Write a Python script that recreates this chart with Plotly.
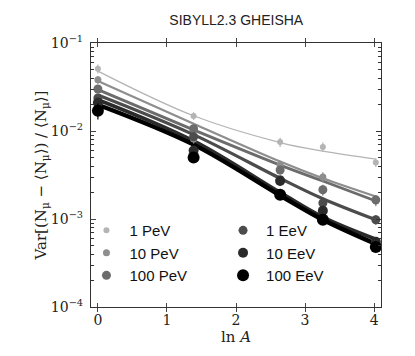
import plotly.graph_objects as go

# ln A das componentes (p, He, N, ~Al, Fe)
ln_a = [0.0, 1.386, 2.639, 3.258, 4.025]

energias = ["1 PeV", "10 PeV", "100 PeV", "1 EeV", "10 EeV", "100 EeV"]

# Pontos simulados
var_1pev = [0.051, 0.0148, 0.0075, 0.0066, 0.0044]
var_10pev = [0.0383, 0.0081, 0.0041, 0.0030, 0.0016]
var_100pev = [0.030, 0.0106, 0.0036, 0.00215, 0.00165]
var_1eev = [0.0237, 0.0086, 0.0028, 0.00152, 0.00098]
var_10eev = [0.0209, 0.0060, 0.0027, 0.00124, 0.00055]
var_100eev = [0.0170, 0.0050, 0.00189, 0.00098, 0.00048]

# Barras de erro
err_1pev = [0.006, 0.0015, 0.0009, 0.0008, 0.0005]
err_10pev = [0.004, 0.0009, 0.0005, 0.0004, 0.0002]
err_100pev = [0.003, 0.0010, 0.0004, 0.0003, 0.0002]
err_1eev = [0.0025, 0.0009, 0.0003, 0.0002, 0.00012]
err_10eev = [0.0025, 0.0007, 0.0003, 0.00015, 0.00007]
err_100eev = [0.0035, 0.0006, 0.00022, 0.00012, 0.00006]

# Curvas ajustadas
fit_1pev = [0.048, 0.0149, 0.0074, 0.0059, 0.0048]
fit_10pev = [0.037, 0.0121, 0.0045, 0.0029, 0.0018]
fit_100pev = [0.0295, 0.0103, 0.0041, 0.0027, 0.0016]
fit_1eev = [0.0257, 0.0091, 0.0029, 0.0017, 0.00098]
fit_10eev = [0.0227, 0.0077, 0.0020, 0.00105, 0.00059]
fit_100eev = [0.0199, 0.0070, 0.00185, 0.00098, 0.00052]

# Eixo y
y_ticks = [1e-4, 1e-3, 1e-2, 1e-1]
y_textos = ["10<sup>−4</sup>", "10<sup>−3</sup>", "10<sup>−2</sup>", "10<sup>−1</sup>"]

pontos = [var_1pev, var_10pev, var_100pev, var_1eev, var_10eev, var_100eev]
erros = [err_1pev, err_10pev, err_100pev, err_1eev, err_10eev, err_100eev]
ajustes = [fit_1pev, fit_10pev, fit_100pev, fit_1eev, fit_10eev, fit_100eev]

cores = ["#b4b4b4", "#8e8e8e", "#6c6c6c", "#4c4c4c", "#2a2a2a", "#000000"]
larguras = [1.3, 2.2, 2.8, 3.2, 3.8, 4.4]
tamanhos = [6, 7, 9, 9, 10, 12]

serif = "DejaVu Serif"
eixo = "#333"

fig = go.Figure()

for i, nome in enumerate(energias):
    fig.add_trace(go.Scatter(
        x=ln_a, y=ajustes[i], mode="lines", line_shape="spline",
        line=dict(color=cores[i], width=larguras[i]),
        showlegend=False, hoverinfo="skip"
    ))

for i, nome in enumerate(energias):
    fig.add_trace(go.Scatter(
        x=ln_a, y=pontos[i], mode="markers", name=nome,
        marker=dict(color=cores[i], size=tamanhos[i]),
        error_y=dict(type="data", array=erros[i], color=cores[i],
                     thickness=1.2, width=0),
        legend="legend" if i < 3 else "legend2"
    ))

# eixo espelhado à direita só para os ticks menores
fig.add_trace(go.Scatter(x=ln_a[:1], y=var_1pev[:1], yaxis="y2", mode="markers",
                         marker=dict(opacity=0), showlegend=False, hoverinfo="skip"))

leg = dict(bgcolor="rgba(0,0,0,0)", font=dict(family="Liberation Sans", size=15, color="#111"),
           tracegroupgap=0, itemwidth=36, yanchor="top", xanchor="left")

fig.update_layout(
    width=415, height=356,
    margin=dict(l=83, r=42, t=35, b=57),
    paper_bgcolor="white", plot_bgcolor="white",
    title=dict(text="SIBYLL2.3 GHEISHA", x=0.55, xanchor="center", y=0.966, yanchor="middle",
               font=dict(family="Liberation Sans", size=14, color="#222")),
    legend=dict(x=-0.026, y=0.352, **leg),
    legend2=dict(x=0.445, y=0.352, **leg),
    xaxis=dict(
        range=[-0.1, 4.1], tickvals=[0, 1, 2, 3, 4], ticks="inside", ticklen=4,
        mirror="allticks", showline=True, linecolor=eixo, linewidth=1.2,
        showgrid=False, zeroline=False,
        tickfont=dict(family=serif, size=14, color="#222"),
        title=dict(text="ln <i>A</i>", font=dict(family=serif, size=15, color="#222"), standoff=0)
    ),
    yaxis=dict(
        type="log", range=[-4, -1], tickvals=y_ticks, ticktext=y_textos,
        ticks="inside", ticklen=5, ticklabelstandoff=4,
        mirror="allticks", showline=True, linecolor=eixo, linewidth=1.2,
        showgrid=False, zeroline=False,
        minor=dict(ticks="inside", ticklen=3, dtick="D1", tickcolor=eixo),
        tickfont=dict(family=serif, size=14, color="#222"),
        title=dict(text="Var[(N<sub>μ</sub> − ⟨N<sub>μ</sub>⟩) / ⟨N<sub>μ</sub>⟩]",
                   font=dict(family=serif, size=15, color="#222"), standoff=0)
    ),
    yaxis2=dict(
        type="log", range=[-4, -1], overlaying="y", side="right",
        tickvals=y_ticks, showticklabels=False, ticks="inside", ticklen=5,
        tickcolor=eixo, showgrid=False, zeroline=False, showline=False,
        minor=dict(ticks="inside", ticklen=3, dtick="D1", tickcolor=eixo)
    ),
)

fig.write_html("out.html")
